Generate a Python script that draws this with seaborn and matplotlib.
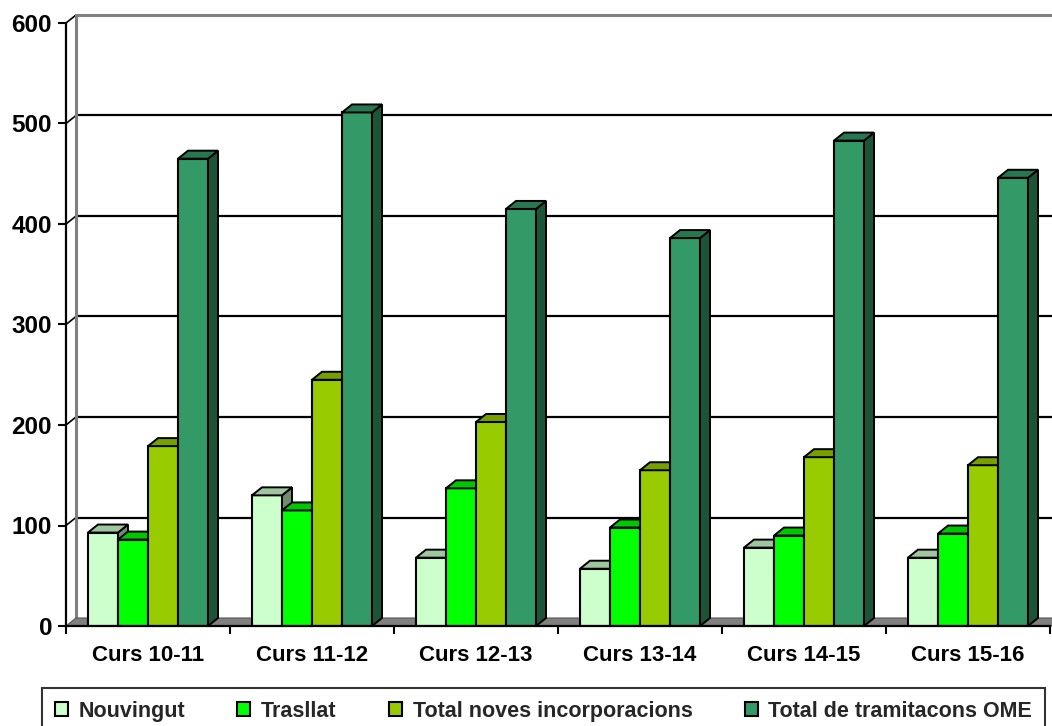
import numpy as np
import pandas as pd
import matplotlib
matplotlib.use("Agg")
import matplotlib.pyplot as plt
from matplotlib.patches import Polygon, Rectangle
from matplotlib.colors import to_rgb
import seaborn as sns

# Data
cursos = ["Curs 10-11", "Curs 11-12", "Curs 12-13", "Curs 13-14", "Curs 14-15", "Curs 15-16"]
series = ["Nouvingut", "Trasllat", "Total noves incorporacions", "Total de tramitacons OME"]
nouvingut = [93, 130, 68, 57, 78, 68]
trasllat = [86, 115, 137, 98, 90, 92]
total_noves = [179, 245, 203, 155, 168, 160]
total_ome = [465, 511, 415, 386, 483, 446]
colors = ["#CCFFCC", "#00FF00", "#99CC00", "#339966"]
yticks = [0, 100, 200, 300, 400, 500, 600]

df = pd.DataFrame({
    "curs": cursos * 4,
    "serie": np.repeat(series, len(cursos)),
    "valor": nouvingut + trasllat + total_noves + total_ome,
})

sns.set_theme(style="white")
plt.rcParams["font.family"] = ["Liberation Sans", "DejaVu Sans"]
plt.rcParams["font.weight"] = "bold"

fig = plt.figure(figsize=(10.52, 7.26), dpi=100)
ax = fig.add_axes([66 / 1052, 100 / 726, 984 / 1052, 603 / 726])

sns.barplot(data=df, x="curs", y="valor", hue="serie", order=cursos,
            hue_order=series, palette=colors, width=0.732,
            edgecolor="black", linewidth=1.5, saturation=1, legend=False, ax=ax)

ax.set_xlim(-0.5, 5.5)
ax.set_ylim(0, 600)

# depth of the fake 3D effect, converted from pixels to data units
dx = 10 / 164
dy = 8 / (603 / 600)

def shade(c, f):
    r, g, b = to_rgb(c)
    return (r * f, g * f, b * f)

# back wall, floor and gridlines
x0, x1 = -0.5, 5.5
for v in yticks[1:-1]:
    ax.plot([x0 + dx, x1 + dx + 1], [v + dy, v + dy], color="black", lw=1.6,
            zorder=1, clip_on=False)
for v in yticks[1:]:
    ax.plot([x0, x0 + dx], [v, v + dy], color="black", lw=1.2, zorder=1, clip_on=False)
ax.plot([x0 + dx, x0 + dx, x1 + dx + 1], [dy, 600 + dy, 600 + dy], color="#808080",
        lw=2.2, zorder=1, clip_on=False)
ax.add_patch(Polygon([(x0, 0), (x1 + 1, 0), (x1 + 1 + dx, dy), (x0 + dx, dy)],
                     closed=True, facecolor="#808080", edgecolor="#555555", lw=0.8,
                     zorder=1.5, clip_on=False))

# sides and tops of the bars
for j, cont in enumerate(ax.containers):
    for bar in cont:
        bx, bw, bh = bar.get_x(), bar.get_width(), bar.get_height()
        bar.set_zorder(3 + j * 3)
        side = Polygon([(bx + bw, 0), (bx + bw + dx, dy), (bx + bw + dx, bh + dy), (bx + bw, bh)],
                       closed=True, facecolor=shade(colors[j], 0.55), edgecolor="black",
                       lw=1.4, zorder=4 + j * 3)
        top = Polygon([(bx, bh), (bx + bw, bh), (bx + bw + dx, bh + dy), (bx + dx, bh + dy)],
                      closed=True, facecolor=shade(colors[j], 0.78), edgecolor="black",
                      lw=1.4, zorder=5 + j * 3, clip_on=False)
        ax.add_patch(side)
        ax.add_patch(top)

# axes
sns.despine(ax=ax, top=True, right=True)
for s in ["left", "bottom"]:
    ax.spines[s].set_color("black")
    ax.spines[s].set_linewidth(1.6)
    ax.spines[s].set_zorder(20)
ax.set_yticks(yticks)
ax.set_yticklabels([str(v) for v in yticks], fontsize=17.5, fontweight="bold")
ax.tick_params(axis="y", direction="out", length=6, width=1.5, pad=4, colors="black", left=True)
ax.set_xticks(range(len(cursos)))
ax.set_xticklabels(cursos, fontsize=16, fontweight="bold")
ax.set_xticks(np.arange(-0.5, 6, 1), minor=True)
ax.tick_params(axis="x", which="major", length=0, pad=14, colors="black")
ax.tick_params(axis="x", which="minor", direction="out", length=6, width=1.5,
               color="black", bottom=True)
ax.set_xlabel("")
ax.set_ylabel("")
ax.grid(False)

handles = [Rectangle((0, 0), 1, 1, facecolor=c, edgecolor="black", lw=1.5) for c in colors]
leg = fig.legend(handles, series, loc="upper left", ncol=4, mode="expand",
                 bbox_to_anchor=(42 / 1052, 38 / 726, 1003 / 1052, 0),
                 prop={"size": 15.5, "weight": "bold"}, frameon=True, fancybox=False,
                 shadow=False, handlelength=0.6, handleheight=0.6, handletextpad=0.5,
                 borderpad=0.6, borderaxespad=0)
leg.get_frame().set_edgecolor("black")
leg.get_frame().set_linewidth(1.5)
leg._legend_box.align = "left"

fig.savefig("out.png", dpi=100)
